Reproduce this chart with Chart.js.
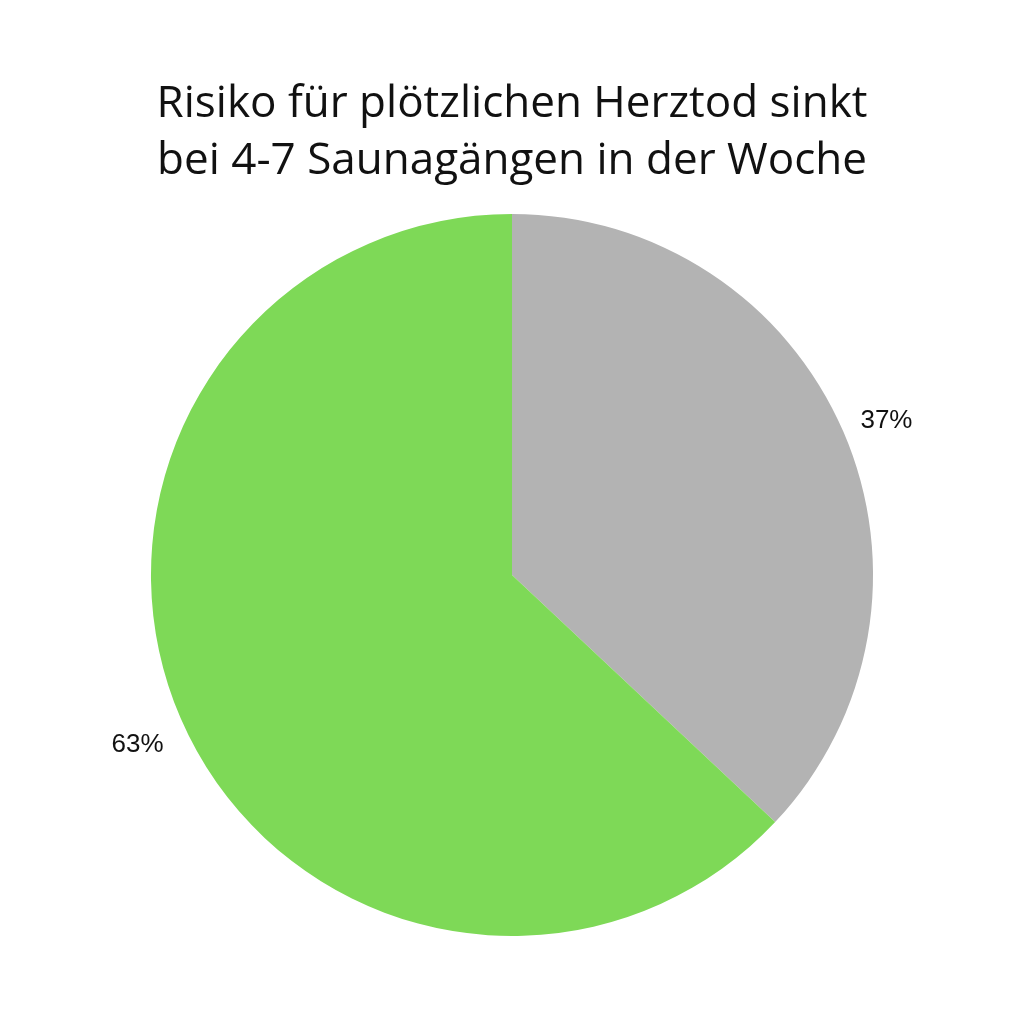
<!DOCTYPE html>
<html>
<head>
<meta charset="utf-8">
<script src="https://cdn.jsdelivr.net/npm/chart.js@4"></script>
<style>
  html, body { margin: 0; padding: 0; background: #ffffff; }
  #wrap { width: 1024px; height: 1024px; }
</style>
</head>
<body>
<div id="wrap"><canvas id="sauna"></canvas></div>
<script>
// data
const categories = ['4-7 Saunagänge', '1 Saunagang'];
const shares = [37, 63];
const sliceColors = ['#B3B3B3', '#7ED957'];
const titleLines = ['Risiko für plötzlichen Herztod sinkt', 'bei 4-7 Saunagängen in der Woche'];

// percent labels outside each slice
const outsideLabels = {
    id: 'outsideLabels',
    afterDatasetsDraw(chart) {
        const ctx = chart.ctx;
        const meta = chart.getDatasetMeta(0);
        ctx.save();
        ctx.font = '26px "Liberation Sans", Arial, sans-serif';
        ctx.fillStyle = '#111111';
        ctx.textAlign = 'center';
        ctx.textBaseline = 'middle';
        meta.data.forEach((arc, i) => {
            const mid = (arc.startAngle + arc.endAngle) / 2;
            const r = arc.outerRadius + 47;
            const x = arc.x + Math.cos(mid) * r;
            const y = arc.y + Math.sin(mid) * r + 8;
            ctx.fillText(shares[i] + '%', x, y);
        });
        ctx.restore();
    }
};

const ctx = document.getElementById('sauna').getContext('2d');
new Chart(ctx, {
    type: 'pie',
    data: {
        labels: categories,
        datasets: [{
            data: shares,
            backgroundColor: sliceColors,
            borderWidth: 0
        }]
    },
    options: {
        responsive: true,
        maintainAspectRatio: false,
        animation: false,
        layout: {
            padding: { top: 0, bottom: 88, left: 100, right: 100 }
        },
        plugins: {
            legend: { display: false },
            tooltip: { enabled: false },
            title: {
                display: true,
                text: titleLines,
                color: '#111111',
                font: { family: '"Open Sans", Roboto, sans-serif', size: 44, weight: 'normal', lineHeight: 1.295 },
                padding: { top: 76, bottom: 24 }
            }
        }
    },
    plugins: [outsideLabels]
});
</script>
</body>
</html>
